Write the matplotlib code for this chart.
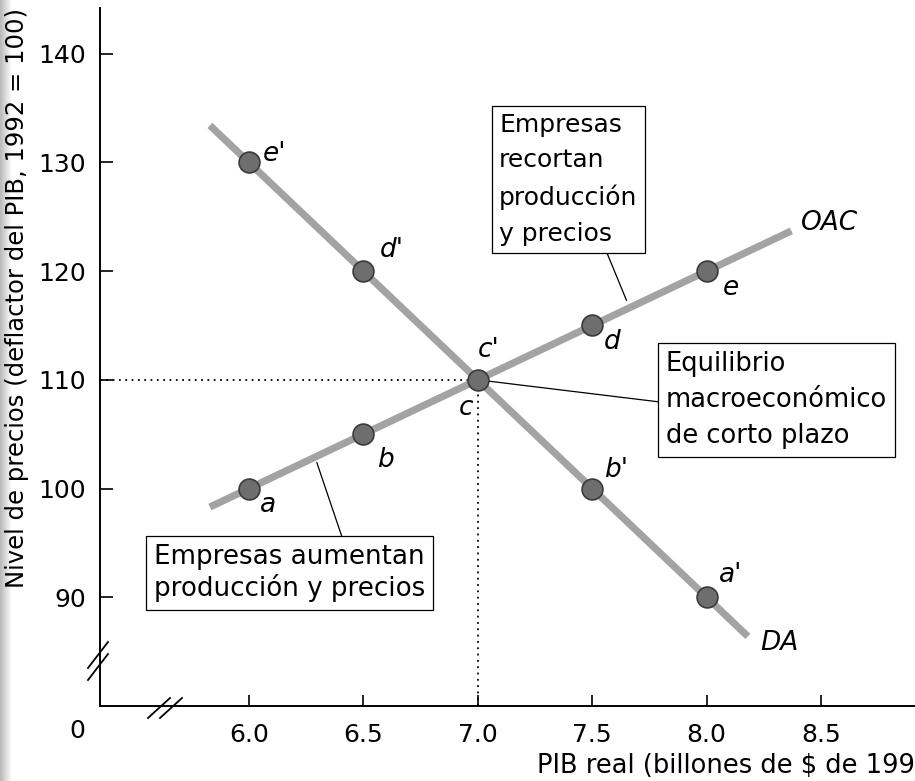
import matplotlib
matplotlib.use("Agg")
import matplotlib.pyplot as plt
import numpy as np

plt.rcParams['font.family'] = ['DejaVu Sans']

# ---- data ----
oac_x = [5.83, 8.37]
oac_y = [98.3, 123.7]
da_x = [5.83, 8.18]
da_y = [133.4, 86.4]

oac_pts_x = [6.0, 6.5, 7.0, 7.5, 8.0]
oac_pts_y = [100, 105, 110, 115, 120]
oac_labels = ["a", "b", "c", "d", "e"]

da_pts_x = [6.0, 6.5, 7.5, 8.0]
da_pts_y = [130, 120, 100, 90]
da_labels = ["e'", "d'", "b'", "a'"]

eq_x, eq_y = 7.0, 110

xticks = [6.0, 6.5, 7.0, 7.5, 8.0, 8.5]
xtick_labels = ["6.0", "6.5", "7.0", "7.5", "8.0", "8.5"]
yticks = [90, 100, 110, 120, 130, 140]
ytick_labels = ["90", "100", "110", "120", "130", "140"]

W, H = 915, 781
fig = plt.figure(figsize=(W / 100, H / 100), dpi=100)

# scan shadow strip at left edge
sh = fig.add_axes([0, 0, 12 / W, 1])
grad = np.linspace(0.72, 1.0, 50).reshape(1, -1)
sh.imshow(grad, cmap='gray', vmin=0, vmax=1, aspect='auto', extent=[0, 1, 0, 1])
sh.axis('off')

ax = fig.add_axes([100 / W, 75 / H, 815 / W, 698 / H])
ax.set_xlim(5.35, 8.91)
ax.set_ylim(80, 144.2)
ax.patch.set_alpha(0)

def fpx(x, y):
    return (x / W, 1 - y / H)

line_col = '#a3a3a3'
pt_face = '#6e6e6e'
pt_edge = '#3a3a3a'

# curves
ax.plot(oac_x, oac_y, color=line_col, lw=5.2, solid_capstyle='butt', zorder=2)
ax.plot(da_x, da_y, color=line_col, lw=5.2, solid_capstyle='butt', zorder=2)

# dotted guides
ax.plot([5.35, eq_x], [eq_y, eq_y], color='black', lw=1.3, ls=(0, (1, 2.5)), zorder=1)
ax.plot([eq_x, eq_x], [80, eq_y], color='black', lw=1.3, ls=(0, (1, 2.5)), zorder=1)

# points
ax.plot(oac_pts_x, oac_pts_y, 'o', ms=15, mfc=pt_face, mec=pt_edge, mew=1.2, zorder=4)
ax.plot(da_pts_x, da_pts_y, 'o', ms=15, mfc=pt_face, mec=pt_edge, mew=1.2, zorder=4)

# point labels (pixel offsets)
oac_off = [(19, -16), (22, -26), (-12, -28), (20, -17), (24, -17)]
for x, y, lab, off in zip(oac_pts_x, oac_pts_y, oac_labels, oac_off):
    ax.annotate(lab, (x, y), xytext=off, textcoords='offset pixels',
                ha='center', va='center', fontsize=19, style='italic', zorder=5)
da_off = [(26, 8), (29, 21), (24, 19), (24, 22)]
for x, y, lab, off in zip(da_pts_x, da_pts_y, da_labels, da_off):
    ax.annotate(lab, (x, y), xytext=off, textcoords='offset pixels',
                ha='center', va='center', fontsize=19, style='italic', zorder=5)
ax.annotate("c'", (eq_x, eq_y), xytext=(11, 30), textcoords='offset pixels',
            ha='center', va='center', fontsize=19, style='italic', zorder=5)

# curve names
ax.annotate("OAC", (oac_x[1], oac_y[1]), xytext=(10, 8), textcoords='offset pixels',
            ha='left', va='center', fontsize=19, style='italic')
ax.annotate("DA", (da_x[1], da_y[1]), xytext=(12, -7), textcoords='offset pixels',
            ha='left', va='center', fontsize=19, style='italic')

# boxes
box = dict(boxstyle='square,pad=0.3', fc='white', ec='black', lw=0.9)
fig.text(*fpx(499, 113), "Empresas\nrecortan\nproducción\ny precios", ha='left', va='top',
         fontsize=18, linespacing=1.6, bbox=box)
fig.text(*fpx(666, 351), "Equilibrio\nmacroeconómico\nde corto plazo", ha='left', va='top',
         fontsize=18.5, linespacing=1.5, bbox=box)
fig.text(*fpx(154, 544), "Empresas aumentan\nproducción y precios", ha='left', va='top',
         fontsize=18.8, linespacing=1.2, bbox=box)

# leader lines
lead = dict(arrowstyle='-', lw=0.9, color='black', shrinkA=0, shrinkB=0)
ax.annotate('', xy=(7.65, 117.3), xycoords='data', xytext=fpx(607, 253),
            textcoords='figure fraction', arrowprops=lead)
ax.annotate('', xy=(eq_x, eq_y), xycoords='data', xytext=fpx(660, 402),
            textcoords='figure fraction', arrowprops=lead)
ax.annotate('', xy=(6.297, 102.4), xycoords='data', xytext=fpx(342, 537),
            textcoords='figure fraction', arrowprops=lead)

# axes styling
for s in ['top', 'right']:
    ax.spines[s].set_visible(False)
ax.spines['left'].set_linewidth(1.4)
ax.spines['bottom'].set_linewidth(1.4)
ax.set_xticks(xticks)
ax.set_xticklabels(xtick_labels)
ax.set_yticks(yticks)
ax.set_yticklabels(ytick_labels)
ax.tick_params(axis='x', direction='in', length=8, width=1.2, labelsize=18, pad=12)
ax.tick_params(axis='y', direction='in', length=9, width=1.2, labelsize=18, pad=10)

# origin label
fig.text(*fpx(77, 731), "0", ha='center', va='center', fontsize=18)

# axis break marks
for dx in (0, 12):
    fig.add_artist(plt.Line2D([(148 + dx) / W, (170 + dx) / W], [1 - 718 / H, 1 - 698 / H],
                              color='black', lw=1.3))
for dy in (0, 12):
    fig.add_artist(plt.Line2D([88 / W, 108 / W], [1 - (668 + dy) / H, 1 - (642 + dy) / H],
                              color='black', lw=1.3))

# axis titles
fig.text(*fpx(17, 298), "Nivel de precios (deflactor del PIB, 1992 = 100)", rotation=90,
         ha='center', va='center', fontsize=17.5)
fig.text(*fpx(537, 766), "PIB real (billones de $ de 1992)", ha='left', va='center', fontsize=18.5)

fig.savefig("out.png", dpi=100)
